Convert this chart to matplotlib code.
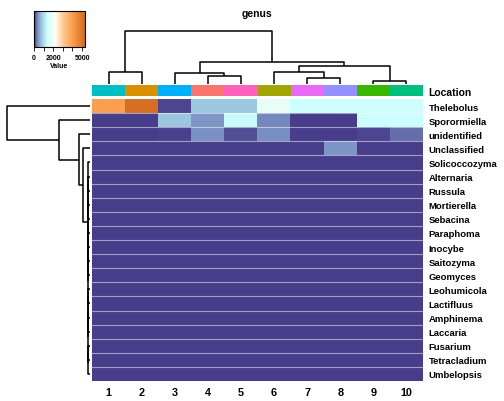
import numpy as np
import matplotlib
matplotlib.use("Agg")
import matplotlib.pyplot as plt
from matplotlib.colors import LinearSegmentedColormap, Normalize
from matplotlib.cm import ScalarMappable

plt.rcParams['font.family'] = ['Liberation Sans', 'DejaVu Sans']

# ---------------- data ----------------
genera = ["Thelebolus", "Sporormiella", "unidentified", "Unclassified", "Solicoccozyma",
          "Alternaria", "Russula", "Mortierella", "Sebacina", "Paraphoma", "Inocybe",
          "Saitozyma", "Geomyces", "Leohumicola", "Lactifluus", "Amphinema", "Laccaria",
          "Fusarium", "Tetracladium", "Umbelopsis"]
col_labels = ["1", "2", "3", "4", "5", "6", "7", "8", "9", "10"]
location_colors = ["#00BFC4", "#D89000", "#00B0F6", "#F8766D", "#FF62BC",
                   "#A3A500", "#E76BF3", "#9590FF", "#39B600", "#00BF7D"]

thelebolus = [3980, 5150, 60, 800, 800, 1850, 1430, 1430, 1450, 1450]
sporormiella = [0, 0, 770, 425, 1330, 370, 0, 0, 1380, 1380]
unidentified = [0, 0, 30, 400, 100, 390, 0, 0, 50, 240]
unclassified = [0, 0, 0, 0, 0, 0, 0, 425, 0, 0]
n_zero_rows = 16

# column dendrogram merges: (left, right, height); leaves are ints, nodes "nK"
col_merges = [(0, 1, 12.3), (3, 4, 8.3), (2, "n1", 11.0), (6, 7, 6.0), (5, "n3", 11.7),
              (8, 9, 3.3), ("n4", "n5", 18.3), ("n2", "n6", 21.7), ("n0", "n7", 53.0)]
# row dendrogram upper merges (rest cluster = rows 4..19 at small height)
rest_height = 2.0
row_merges_upper = [(3, "rest", 7.0), (2, "u0", 11.0), (1, "u1", 31.0), (0, "u2", 82.7)]

vmax_val = 5300

# ---------------- helpers ----------------
values = np.array([thelebolus, sporormiella, unidentified, unclassified] +
                  [[0] * 10 for _ in range(n_zero_rows)], dtype=float)
nrows, ncols = values.shape

W, H = 504, 402
def px_axes(fig, x0, y0, x1, y1):
    return fig.add_axes([x0 / W, 1 - y1 / H, (x1 - x0) / W, (y1 - y0) / H])

cmap = LinearSegmentedColormap.from_list("hm", [
    (0.0, "#483D8B"), (0.08, "#7F98C8"), (0.16, "#A4D0E4"), (0.26, "#CCFFFF"),
    (0.42, "#FFFCF0"), (0.58, "#FFC890"), (0.78, "#F79A45"), (1.0, "#D2691E")])
norm = Normalize(0, vmax_val)

fig = plt.figure(figsize=(W / 100, H / 100), dpi=100)

# heatmap
hx0, hx1, hy0, hy1 = 92, 423, 100, 382
axh = px_axes(fig, hx0, hy0, hx1, hy1)
axh.imshow(values, cmap=cmap, norm=norm, aspect="auto",
           extent=(0, ncols, nrows, 0), interpolation="nearest")
for r in range(1, nrows):
    axh.axhline(r, color="white", alpha=0.5, lw=0.8)
axh.set_xlim(0, ncols)
axh.set_ylim(nrows, 0)
axh.set_xticks(np.arange(ncols) + 0.5)
axh.set_xticklabels(col_labels, fontsize=7.8, fontweight="bold")
axh.tick_params(axis="x", length=0, pad=4)
axh.yaxis.tick_right()
axh.set_yticks(np.arange(nrows) + 0.5)
axh.set_yticklabels(genera, fontsize=6.8, fontweight="bold")
axh.tick_params(axis="y", length=0, pad=4)
for s in axh.spines.values():
    s.set_visible(False)

# location bar
axl = px_axes(fig, hx0, 86, hx1, 97)
for i, c in enumerate(location_colors):
    axl.axvspan(i, i + 1, color=c, lw=0)
axl.set_xlim(0, ncols)
axl.set_ylim(0, 1)
axl.set_xticks([])
axl.yaxis.tick_right()
axl.set_yticks([0.5])
axl.set_yticklabels(["Location"], fontsize=7.5, fontweight="bold")
axl.tick_params(axis="y", length=0, pad=4)
for s in axl.spines.values():
    s.set_visible(False)

# dendrogram drawing
def draw_dendro(ax, merges, leaf_pos, orient):
    pos, hgt = {}, {}
    segs = []
    for k, m in enumerate(merges):
        a, b, h = m[0], m[1], m[2]
        pa = pos[a] if isinstance(a, str) else leaf_pos[a]
        pb = pos[b] if isinstance(b, str) else leaf_pos[b]
        ha = hgt[a] if isinstance(a, str) else 0.0
        hb = hgt[b] if isinstance(b, str) else 0.0
        segs.append(([pa, pa, pb, pb], [ha, h, h, hb]))
        name = m[3] if len(m) > 3 else "n%d" % k
        pos[name] = (pa + pb) / 2
        hgt[name] = h
    for p, h in segs:
        if orient == "top":
            ax.plot(p, h, color="black", lw=1.1, solid_capstyle="butt")
        else:
            ax.plot(h, p, color="black", lw=1.1, solid_capstyle="butt")
    return pos, hgt

# top dendrogram
axd = px_axes(fig, hx0, 30, hx1, 85)
leafc = {i: i + 0.5 for i in range(ncols)}
draw_dendro(axd, col_merges, leafc, "top")
axd.set_xlim(0, ncols)
axd.set_ylim(0, 55)
axd.axis("off")

# row dendrogram
axr = px_axes(fig, 5, hy0, 90, hy1)
leafr = {i: i + 0.5 for i in range(nrows)}
rest_merges = []
def build(lo, hi):
    if lo == hi:
        return lo
    mid = (lo + hi) // 2
    a = build(lo, mid)
    b = build(mid + 1, hi)
    name = "b%d_%d" % (lo, hi)
    rest_merges.append((a, b, rest_height, name))
    return name
top_bal = build(5, nrows - 1)
rest_merges.append((4, top_bal, rest_height, "rest"))
upper = [(a, b, h, "u%d" % i) for i, (a, b, h) in enumerate(row_merges_upper)]
draw_dendro(axr, rest_merges + upper, leafr, "left")
axr.set_ylim(nrows, 0)
axr.set_xlim(85, 0)
axr.axis("off")

# colorbar
axc = px_axes(fig, 34, 12, 85, 48)
cb = fig.colorbar(ScalarMappable(norm=norm, cmap=cmap), cax=axc, orientation="horizontal",
                  ticks=[0, 1000, 2000, 3000, 4000, 5000])
cb.ax.set_xticklabels(["0", "", "2000", "", "", "5000"], fontsize=5, fontweight="bold")
cb.ax.tick_params(length=3, width=0.6, pad=2)
cb.outline.set_linewidth(0.8)
cb.set_label("Value", fontsize=5, fontweight="bold", labelpad=1)

fig.text(257 / W, 1 - 14 / H, "genus", ha="center", va="center", fontsize=7.5, fontweight="bold")

fig.savefig("out.png", dpi=100)
